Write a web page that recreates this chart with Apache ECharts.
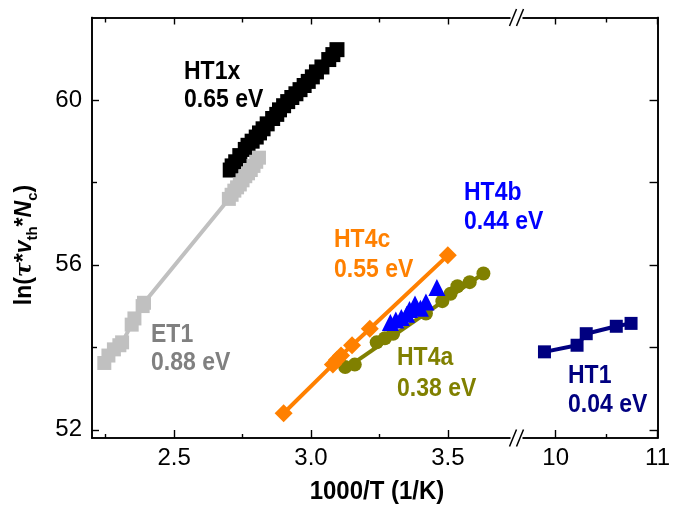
<!DOCTYPE html>
<html><head><meta charset="utf-8">
<script src="https://cdn.jsdelivr.net/npm/echarts@6/dist/echarts.min.js"></script>
<style>html,body{margin:0;padding:0;background:#fff}#c{width:673px;height:515px}</style>
</head><body><div id="c"></div>
<script>
// ---- tick values ----
const xTicksLeft = [2.5, 3.0, 3.5];
const xMinorLeft = [2.25, 2.75, 3.25];
const xTicksRight = [10, 11];
const xMinorRight = [10.5];
const yTicks = [52, 56, 60];
const yMinor = [54, 58];

// ---- data (1000/T, ln(tau*vth*Nc)) ----
const ht1x = [[2.705,58.30],[2.712,58.40],[2.725,58.50],[2.74,58.65],[2.76,58.80],[2.77,58.90],[2.785,59.00],[2.80,59.10],[2.812,59.20],[2.825,59.30],[2.84,59.42],[2.86,59.55],[2.875,59.65],[2.885,59.76],[2.90,59.86],[2.915,59.96],[2.93,60.06],[2.945,60.15],[2.96,60.25],[2.975,60.35],[2.99,60.45],[3.005,60.56],[3.02,60.68],[3.04,60.80],[3.065,60.98],[3.08,61.10],[3.095,61.22]];
const et1 = [[2.245,53.62],[2.26,53.80],[2.28,53.95],[2.30,54.05],[2.31,54.12],[2.345,54.55],[2.355,54.70],[2.385,55.00],[2.39,55.08],[2.70,57.60],[2.71,57.70],[2.72,57.80],[2.73,57.88],[2.74,57.95],[2.75,58.05],[2.76,58.15],[2.77,58.22],[2.78,58.30],[2.79,58.40],[2.80,58.50],[2.81,58.60]];
const ht4c = [[2.90,52.40],[3.08,53.58],[3.095,53.70],[3.11,53.80],[3.15,54.05],[3.215,54.45],[3.50,56.23]];
const ht4a = [[3.125,53.52],[3.16,53.58],[3.24,54.12],[3.27,54.22],[3.30,54.33],[3.42,54.82],[3.48,55.12],[3.51,55.30],[3.535,55.48],[3.58,55.58],[3.63,55.79]];
const ht4aFit = [[3.12,53.45],[3.63,55.79]];
const ht4b = [[3.29,54.60],[3.31,54.66],[3.33,54.72],[3.35,54.80],[3.36,54.92],[3.38,55.05],[3.40,54.95],[3.42,55.10],[3.46,55.45]];
const ht1 = [[9.89,53.89],[10.21,54.05],[10.30,54.33],[10.595,54.51],[10.74,54.58]];

const FONT = 'Liberation Sans';
const BLACK = '#000';

function xa(grid, pos, min, max, ticks, len, labels, fmt) {
  return {
    type: 'value', gridIndex: grid, position: pos, min: min, max: max,
    axisLine: {show: true, onZero: false, lineStyle: {color: BLACK, width: 1.6}},
    axisTick: {show: true, inside: true, length: len, customValues: ticks, lineStyle: {color: BLACK, width: 1.4}},
    axisLabel: labels ? {show: true, customValues: ticks, formatter: fmt, fontFamily: FONT, fontSize: 24, color: '#000', margin: 8} : {show: false},
    splitLine: {show: false}
  };
}
function ya(grid, pos, ticks, len, labels) {
  return {
    type: 'value', gridIndex: grid, position: pos, min: 51.8, max: 62,
    axisLine: {show: true, onZero: false, lineStyle: {color: BLACK, width: 1.6}},
    axisTick: {show: true, inside: true, length: len, customValues: ticks, lineStyle: {color: BLACK, width: 1.4}},
    axisLabel: labels ? {show: true, customValues: ticks, fontFamily: FONT, fontSize: 24, color: '#000', margin: 10} : {show: false},
    splitLine: {show: false}
  };
}
const f1 = v => Number(v).toFixed(1);
const f0 = v => String(Math.round(v));

const annotations = [
  {t1: 'HT1x', t2: '0.65 eV', color: '#000000', x: 184, y1: 72, y2: 100},
  {t1: 'HT4b', t2: '0.44 eV', color: '#0000ff', x: 464, y1: 193, y2: 222},
  {t1: 'HT4c', t2: '0.55 eV', color: '#ff8000', x: 334, y1: 240, y2: 270},
  {t1: 'ET1',  t2: '0.88 eV', color: '#808080', x: 151, y1: 335, y2: 363},
  {t1: 'HT4a', t2: '0.38 eV', color: '#808000', x: 397, y1: 358, y2: 389},
  {t1: 'HT1',  t2: '0.04 eV', color: '#000080', x: 568, y1: 376, y2: 405}
];

const graphics = [];
annotations.forEach(a => {
  [[a.t1, a.y1], [a.t2, a.y2]].forEach(([t, y]) => {
    graphics.push({type: 'text', x: a.x, y: y, z: 50, scaleY: 1.1,
      style: {text: t, fill: a.color, font: 'bold 23px "' + FONT + '"', textAlign: 'left', textVerticalAlign: 'middle'}});
  });
});
// axis break marks
[17.5, 438].forEach(y => {
  graphics.push({type: 'rect', z: 60, shape: {x: 510.5, y: y - 2.5, width: 12, height: 5}, style: {fill: '#fff'}});
  [513, 520].forEach(xc => {
    graphics.push({type: 'line', z: 61, shape: {x1: xc - 3.5, y1: y + 8.5, x2: xc + 3.5, y2: y - 8.5}, style: {stroke: '#000', lineWidth: 1.5}});
  });
});
// axis titles
graphics.push({type: 'text', x: 377, y: 492, z: 50, scaleY: 1.1,
  style: {text: '1000/T (1/K)', fill: '#000', font: 'bold 24px "' + FONT + '"', textAlign: 'center', textVerticalAlign: 'middle'}});
graphics.push({type: 'text', x: 25, y: 245, rotation: Math.PI / 2, z: 50,
  style: {
    text: '{b|ln(}{t|τ}{b|*}{i|v}{s|th}{b|*}{i|N}{s|c}{b|)}',
    align: 'center', verticalAlign: 'middle',
    rich: {
      b: {fontFamily: FONT, fontWeight: 'bold', fontSize: 23, lineHeight: 30, fill: '#000'},
      t: {fontFamily: 'DejaVu Serif', fontStyle: 'italic', fontWeight: 'bold', fontSize: 22, lineHeight: 30, fill: '#000'},
      i: {fontFamily: FONT, fontStyle: 'italic', fontWeight: 'bold', fontSize: 23, lineHeight: 30, fill: '#000'},
      s: {fontFamily: FONT, fontWeight: 'bold', fontSize: 15, lineHeight: 18, verticalAlign: 'bottom', fill: '#000'}
    }
  }});

const option = {
  animation: false,
  backgroundColor: '#fff',
  grid: [
    {left: 92, top: 17.5, width: 427, height: 420.5},
    {left: 519, top: 17.5, width: 143, height: 420.5}
  ],
  xAxis: [
    xa(0, 'bottom', 2.2, 3.76, xTicksLeft, 8, true, f1),
    xa(0, 'bottom', 2.2, 3.76, xMinorLeft, 4, false),
    xa(0, 'top', 2.2, 3.76, xTicksLeft, 7, false),
    xa(0, 'top', 2.2, 3.76, xMinorLeft, 5, false),
    xa(1, 'bottom', 9.64, 11, xTicksRight, 8, true, f0),
    xa(1, 'bottom', 9.64, 11, xMinorRight, 4, false),
    xa(1, 'top', 9.64, 11, xTicksRight, 7, false),
    xa(1, 'top', 9.64, 11, xMinorRight, 5, false)
  ],
  yAxis: [
    ya(0, 'left', yTicks, 7, true),
    ya(0, 'left', yMinor, 5, false),
    ya(1, 'right', yTicks, 8, false),
    ya(1, 'right', yMinor, 8, false)
  ],
  series: [
    {name: 'HT1x', type: 'line', xAxisIndex: 0, yAxisIndex: 0, data: ht1x, symbol: 'rect', symbolSize: 15,
      itemStyle: {color: '#000'}, lineStyle: {color: '#000', width: 4}, z: 2},
    {name: 'ET1', type: 'line', xAxisIndex: 0, yAxisIndex: 0, data: et1, symbol: 'rect', symbolSize: 14,
      itemStyle: {color: '#c0c0c0'}, lineStyle: {color: '#c0c0c0', width: 4}, z: 3},
    {name: 'HT4a fit', type: 'line', xAxisIndex: 0, yAxisIndex: 0, data: ht4aFit, showSymbol: false, symbol: 'none',
      lineStyle: {color: '#808000', width: 4}, z: 3},
    {name: 'HT4a', type: 'scatter', xAxisIndex: 0, yAxisIndex: 0, data: ht4a, symbol: 'circle', symbolSize: 14,
      itemStyle: {color: '#808000', opacity: 1}, z: 4},
    {name: 'HT4c', type: 'line', xAxisIndex: 0, yAxisIndex: 0, data: ht4c, symbol: 'diamond', symbolSize: 18,
      itemStyle: {color: '#ff8000'}, lineStyle: {color: '#ff8000', width: 4}, z: 5},
    {name: 'HT4b', type: 'scatter', xAxisIndex: 0, yAxisIndex: 0, data: ht4b, symbol: 'triangle', symbolSize: 17,
      itemStyle: {color: '#0000ff', opacity: 1}, z: 6},
    {name: 'HT1', type: 'line', xAxisIndex: 4, yAxisIndex: 2, data: ht1, symbol: 'rect', symbolSize: 13,
      itemStyle: {color: '#000080'}, lineStyle: {color: '#000080', width: 4}, z: 5}
  ],
  graphic: graphics
};
const chart = echarts.init(document.getElementById('c'), null, {renderer: 'canvas'});
chart.setOption(option);
</script>
</body></html>
